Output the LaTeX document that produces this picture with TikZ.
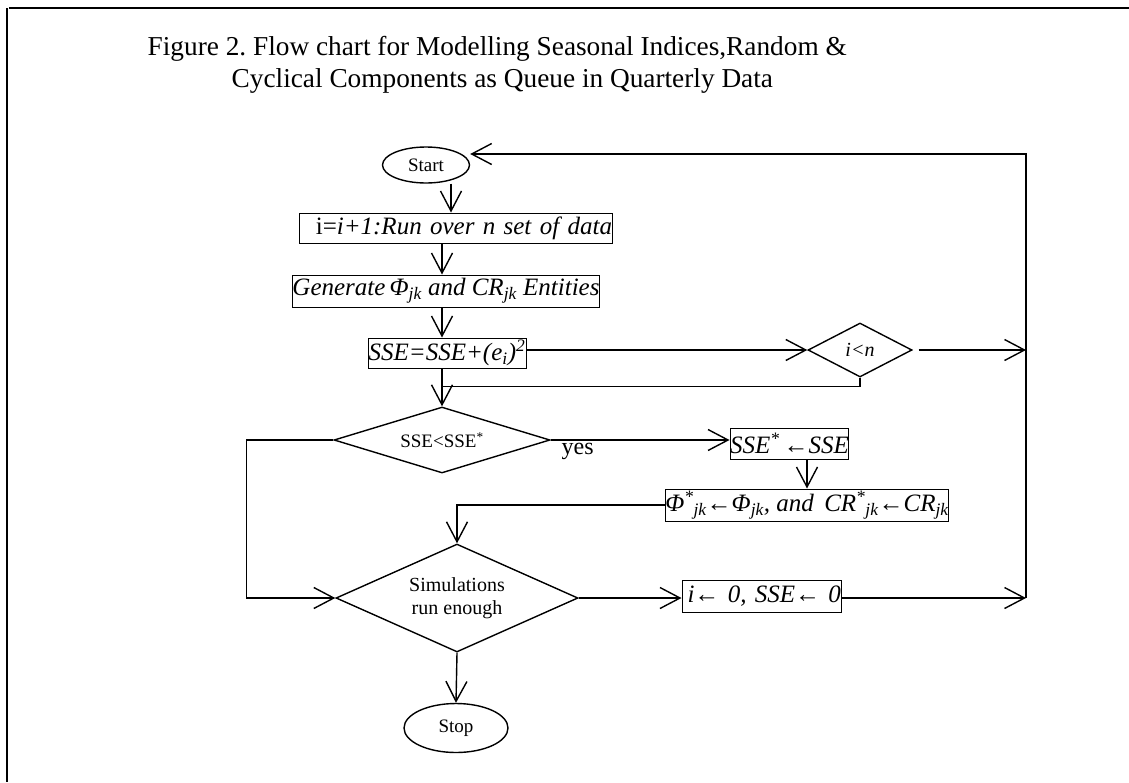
\documentclass[tikz,border=0pt]{standalone}
\usepackage{fontspec}
\setmainfont{Liberation Serif}
\usetikzlibrary{shapes.geometric,arrows.meta}

\tikzset{
  arr/.style={-{Straight Barb[length=20pt,width=21pt]}},
  box/.style={draw, line width=1pt, inner sep=0pt, font=\fontsize{25}{28}\selectfont\itshape},
  decide/.style={draw, diamond, inner sep=0pt},
  term/.style={draw, ellipse, inner sep=0pt, font=\fontsize{19}{22}\selectfont},
}

\frenchspacing

\begin{document}
\begin{tikzpicture}[x=1pt,y=-1pt,line width=1.4pt]

\useasboundingbox (0,0) rectangle (1129,782);

\draw[line width=1.5pt] (9,8) -- (1129,8);
\draw[line width=1.5pt] (7,8) -- (7,782);

\node[anchor=base west, inner sep=0pt, font=\fontsize{27.3}{32}\selectfont] (title1) at (147,55) {Figure 2. Flow chart for Modelling Seasonal Indices,Random \&};
\node[anchor=base west, inner sep=0pt, font=\fontsize{27.3}{32}\selectfont] (title2) at (231,87) {Cyclical Components as Queue in Quarterly Data};

\node[term, minimum width=87pt, minimum height=36pt] (start) at (426,165) {Start};
\node[box, minimum height=30pt, text width=313pt, align=right] (run) at (455.5,228) {\textup{i=}i+1:Run over n set of data};
\node[box, minimum width=302pt, minimum height=32pt] (gen) at (446,291) {Generate\,Φ\textsubscript{jk} and CR\textsubscript{jk} Entities};
\node[box, minimum width=158pt, minimum height=30pt] (sse) at (447,353) {SSE=SSE+(e\textsubscript{i})\textsuperscript{2}};
\node[decide, minimum width=104pt, minimum height=54pt, aspect=1.93, font=\fontsize{20}{22}\selectfont\itshape] (iltn) at (860,350) {i<n};
\node[decide, minimum width=216pt, minimum height=66pt, aspect=3.27, font=\fontsize{19}{22}\selectfont] (test) at (442,440) {SSE<SSE\textsuperscript{*}};
\node[anchor=base west, inner sep=0pt, font=\fontsize{24}{26}\selectfont] (yes) at (561,454) {yes};
\node[box, minimum width=115pt, minimum height=31pt] (swap) at (789.5,443.5) {SSE\textsuperscript{*}\,←SSE};
\node[box, minimum width=278pt, minimum height=32pt] (keep) at (807,505) {Φ\textsuperscript{*}\textsubscript{jk}←Φ\textsubscript{jk}, and\, CR\textsuperscript{*}\textsubscript{jk}←CR\textsubscript{jk}};
\node[decide, minimum width=242pt, minimum height=108pt, aspect=2.24, align=center, font=\fontsize{20}{23}\selectfont] (enough) at (457,598) {Simulations\\run enough};
\node[box, minimum height=32pt, text width=159pt, align=right] (reset) at (761.5,596) {i← 0, SSE← 0};
\node[term, minimum width=104pt, minimum height=49pt] (stop) at (456,728) {Stop};

\coordinate (corner) at (1026,154);

\draw[arr] (start.south -| 451,0) -- (run.north -| 451,0);
\draw[arr] (run.south -| test) -- (gen.north -| test);
\draw[arr] (gen.south -| test) -- (sse.north -| test);
\draw[arr] (sse.south -| test) -- (test.north);
\draw[arr] (sse.east |- iltn.west) -- (iltn.west);
\draw[arr] ([xshift=6pt]iltn.east) -- (iltn.east -| corner);
\draw (iltn.south) -- ++(0,9) coordinate (back) -- (back -| test.north);

\draw[arr] (test.east) -- (test.east -| swap.west);
\draw[arr] (swap.south -| keep) -- (keep.north);
\draw[arr] (keep.west) -| (enough.north);
\draw[arr] (test.west) -- ++(-87,0) |- (enough.west);

\draw[arr] (enough.east) -- (enough.east -| reset.west);
\draw[arr] (reset.east |- enough.east) -- (enough.east -| corner);
\draw[arr] (enough.east -| corner) -- (corner) -- (start.east |- corner);
\draw[arr] (enough.south) -- (stop.north);

\end{tikzpicture}
\end{document}
